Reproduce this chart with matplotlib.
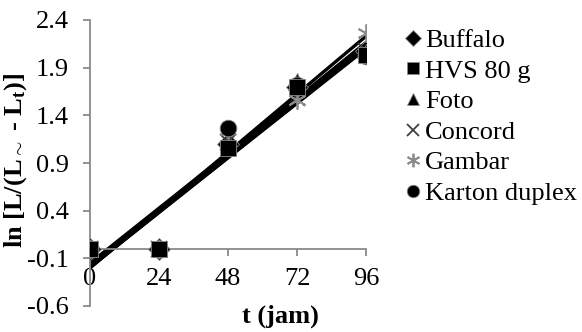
import numpy as np
import matplotlib
matplotlib.use("Agg")
import matplotlib.pyplot as plt

plt.rcParams['font.family'] = ['Liberation Serif', 'DejaVu Serif']
plt.rcParams['mathtext.fontset'] = 'custom'
plt.rcParams['mathtext.rm'] = 'Liberation Serif'
plt.rcParams['mathtext.bf'] = 'Liberation Serif:bold'
plt.rcParams['mathtext.default'] = 'bf'

# waktu pengamatan (jam)
t = [0, 24, 48, 72, 96]

buffalo = [0, 0, 1.10, 1.70, 2.07]
hvs = [0, 0, 1.06, 1.70, 2.03]
foto = [0, 0, 1.12, 1.76, 2.06]
concord = [0, 0, 1.12, 1.58, 2.07]
gambar = [0, 0, 1.25, 1.56, 2.26]
karton = [0, 0, 1.27, 1.72, 2.02]

series = [
    ('Buffalo', buffalo, 'D', 'black', 11, 3),
    ('HVS 80 g', hvs, 's', 'black', 12, 5),
    ('Foto', foto, '^', 'black', 12, 3),
    ('Concord', concord, 'x', '#404040', 12, 3),
    ('Gambar', gambar, (6, 2, 0), '#8c8c8c', 13, 3),
    ('Karton duplex', karton, 'o', 'black', 12, 4),
]

fig = plt.figure(figsize=(5.82, 3.32), dpi=100)
ax = fig.add_axes([90 / 582, 26 / 332, 276 / 582, 286 / 332])

gray = '#8a8a8a'
handles = []
x = np.array(t, dtype=float)
for name, y, mk, col, ms, z in series:
    # garis tren linear tiap jenis kertas
    k, c = np.polyfit(x, y, 1)
    xx = np.array([0, 96])
    ax.plot(xx, k * xx + c, color='black', lw=2.4, zorder=2, solid_capstyle='butt')
for name, y, mk, col, ms, z in series:
    if mk in ('x', (6, 2, 0)):
        h, = ax.plot(t, y, ls='none', marker=mk, ms=ms, mew=1.3, color=col, zorder=z)
    else:
        h, = ax.plot(t, y, ls='none', marker=mk, ms=ms, mfc=col, mec=gray, mew=0.6, zorder=z)
    handles.append(h)

ax.set_xlim(0, 96)
ax.set_ylim(-0.6, 2.4)
ax.set_xticks([0, 24, 48, 72, 96])
ax.set_yticks([-0.6, -0.1, 0.4, 0.9, 1.4, 1.9, 2.4])
ax.set_yticklabels(['-0.6', '-0.1', '0.4', '0.9', '1.4', '1.9', '2.4'])

for s in ['top', 'right']:
    ax.spines[s].set_visible(False)
ax.spines['bottom'].set_position(('data', 0))
ax.spines['bottom'].set_color(gray)
ax.spines['left'].set_color(gray)
ax.spines['bottom'].set_linewidth(1.3)
ax.spines['left'].set_linewidth(1.3)
ax.tick_params(axis='both', direction='out', length=5, width=1.3, color=gray,
               labelsize=19, labelcolor='black')
ax.tick_params(axis='y', pad=10)
ax.tick_params(axis='x', pad=9)

fig.text(280 / 582, 1 - 316 / 332, 't (jam)', ha='center', va='center',
         fontsize=19, fontweight='bold')
fig.text(16 / 582, 1 - 160 / 332, r'ln [L/(L$_{\sim}$ - L$_{t}$)]', ha='center',
         va='center', rotation=90, fontsize=19, fontweight='bold')

leg = fig.legend(handles, [s[0] for s in series], loc='upper left',
                 bbox_to_anchor=(395 / 582, 1 - 18 / 332), frameon=False,
                 fontsize=19, handlelength=0.55, handletextpad=0.2,
                 labelspacing=0.27, markerscale=0.75, borderaxespad=0)

fig.savefig('out.png', dpi=100)
